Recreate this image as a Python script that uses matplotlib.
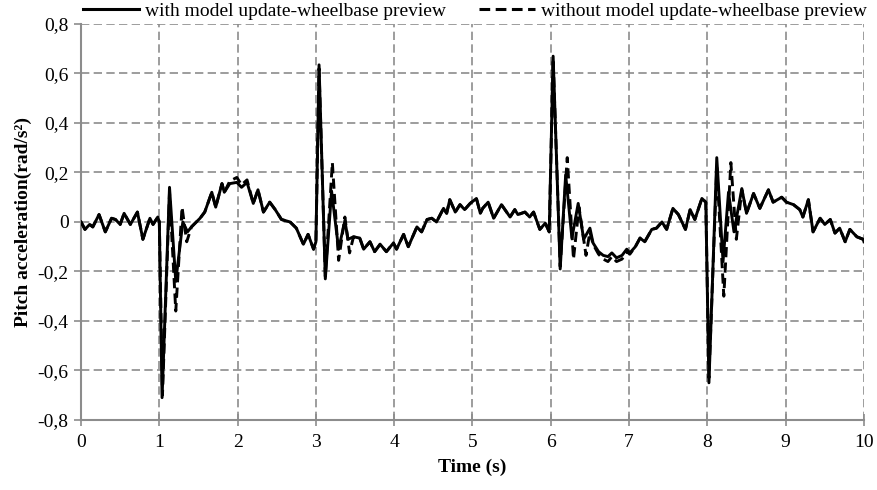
import matplotlib
matplotlib.use('Agg')
import matplotlib.pyplot as plt
from matplotlib.lines import Line2D

###########################
# Data
###########################

# with model update-wheelbase preview
t_with = [0.00, 0.05, 0.11, 0.15, 0.23, 0.31, 0.39, 0.44, 0.50, 0.55, 0.63, 0.72, 0.79, 0.88, 0.92, 0.98,
          1.00, 1.035, 1.13, 1.21, 1.30, 1.36, 1.41, 1.52, 1.58, 1.67, 1.72, 1.80, 1.83, 1.90, 1.99,
          2.05, 2.12, 2.20, 2.26, 2.33, 2.41, 2.48, 2.56, 2.67, 2.75, 2.84, 2.90, 2.97,
          3.00, 3.04, 3.12, 3.20, 3.29, 3.37, 3.41, 3.48, 3.56, 3.61, 3.69, 3.75, 3.82, 3.90, 3.99,
          4.03, 4.12, 4.18, 4.29, 4.35, 4.42, 4.48, 4.54, 4.63, 4.67, 4.71, 4.78, 4.84, 4.90, 4.97,
          5.05, 5.10, 5.13, 5.20, 5.27, 5.37, 5.48, 5.54, 5.58, 5.67, 5.73, 5.78, 5.86, 5.93, 5.98,
          6.03, 6.12, 6.19, 6.27, 6.35, 6.42, 6.50, 6.54, 6.61, 6.67, 6.73, 6.78, 6.84, 6.91, 6.97,
          7.01, 7.08, 7.14, 7.20, 7.29, 7.35, 7.42, 7.48, 7.56, 7.63, 7.72, 7.78, 7.84, 7.93, 7.98,
          8.02, 8.12, 8.20, 8.27, 8.34, 8.44, 8.50, 8.59, 8.67, 8.78, 8.84, 8.95,
          9.01, 9.10, 9.18, 9.22, 9.29, 9.35, 9.44, 9.50, 9.57, 9.63, 9.69, 9.76, 9.82, 9.91, 9.99, 10.0]
a_with = [0.0, -0.03, -0.01, -0.02, 0.03, -0.04, 0.015, 0.01, -0.01, 0.035, -0.01, 0.04, -0.07, 0.015, -0.01, 0.02,
          0.0, -0.71, 0.14, -0.24, 0.0, -0.04, -0.02, 0.015, 0.04, 0.12, 0.06, 0.155, 0.12, 0.155, 0.16,
          0.14, 0.16, 0.075, 0.13, 0.04, 0.08, 0.05, 0.01, 0.0, -0.025, -0.09, -0.05, -0.11,
          -0.08, 0.635, -0.23, 0.125, -0.11, 0.005, -0.07, -0.06, -0.065, -0.11, -0.08, -0.12, -0.09, -0.12, -0.085,
          -0.11, -0.05, -0.10, -0.02, -0.04, 0.01, 0.015, 0.0, 0.055, 0.035, 0.09, 0.04, 0.07, 0.05, 0.075,
          0.095, 0.035, 0.055, 0.08, 0.015, 0.07, 0.02, 0.05, 0.03, 0.04, 0.02, 0.04, -0.03, -0.005, -0.04,
          0.67, -0.19, 0.19, -0.065, 0.075, -0.07, -0.025, -0.085, -0.12, -0.135, -0.14, -0.125, -0.145, -0.135, -0.11,
          -0.125, -0.10, -0.065, -0.08, -0.03, -0.025, 0.0, -0.03, 0.055, 0.03, -0.03, 0.05, 0.01, 0.095, 0.08,
          -0.65, 0.26, -0.16, 0.12, -0.04, 0.135, 0.035, 0.115, 0.055, 0.13, 0.08, 0.10,
          0.08, 0.07, 0.05, 0.02, 0.09, -0.04, 0.015, -0.01, 0.01, -0.045, -0.025, -0.08, -0.03, -0.06, -0.07, -0.08]

# without model update-wheelbase preview
t_without = [0.00, 0.05, 0.11, 0.15, 0.23, 0.31, 0.39, 0.44, 0.50, 0.55, 0.63, 0.72, 0.79, 0.88, 0.92, 0.98,
             1.00, 1.04, 1.13, 1.21, 1.29, 1.35, 1.41, 1.52, 1.58, 1.67, 1.72, 1.80, 1.83, 1.90, 1.99,
             2.05, 2.12, 2.20, 2.26, 2.33, 2.41, 2.48, 2.56, 2.67, 2.75, 2.84, 2.90, 2.97,
             3.00, 3.04, 3.12, 3.21, 3.29, 3.37, 3.43, 3.48, 3.56, 3.61, 3.69, 3.75, 3.82, 3.90, 3.99,
             4.03, 4.12, 4.18, 4.29, 4.35, 4.42, 4.48, 4.54, 4.63, 4.67, 4.71, 4.78, 4.84, 4.90, 4.97,
             5.05, 5.10, 5.13, 5.20, 5.27, 5.37, 5.48, 5.54, 5.58, 5.67, 5.73, 5.78, 5.86, 5.93, 5.98,
             6.03, 6.12, 6.21, 6.29, 6.36, 6.45, 6.50, 6.54, 6.61, 6.67, 6.73, 6.78, 6.84, 6.91, 6.97,
             7.01, 7.08, 7.14, 7.20, 7.29, 7.35, 7.42, 7.48, 7.56, 7.63, 7.72, 7.78, 7.84, 7.93, 7.98,
             8.02, 8.12, 8.21, 8.30, 8.37, 8.44, 8.50, 8.59, 8.67, 8.78, 8.84, 8.95,
             9.01, 9.10, 9.18, 9.22, 9.29, 9.35, 9.44, 9.50, 9.57, 9.63, 9.69, 9.76, 9.82, 9.91, 9.99, 10.0]
a_without = [0.0, -0.03, -0.01, -0.02, 0.03, -0.04, 0.015, 0.01, -0.01, 0.035, -0.01, 0.04, -0.07, 0.015, -0.01, 0.02,
             0.0, -0.70, 0.12, -0.36, 0.06, -0.08, -0.02, 0.015, 0.04, 0.12, 0.06, 0.155, 0.12, 0.165, 0.18,
             0.15, 0.17, 0.075, 0.13, 0.04, 0.08, 0.05, 0.01, 0.0, -0.025, -0.09, -0.05, -0.11,
             -0.08, 0.62, -0.22, 0.24, -0.155, 0.02, -0.125, -0.06, -0.065, -0.11, -0.08, -0.12, -0.09, -0.12, -0.085,
             -0.11, -0.05, -0.10, -0.02, -0.04, 0.01, 0.015, 0.0, 0.055, 0.035, 0.09, 0.04, 0.07, 0.05, 0.075,
             0.095, 0.035, 0.055, 0.08, 0.015, 0.07, 0.02, 0.05, 0.03, 0.04, 0.02, 0.04, -0.03, -0.005, -0.04,
             0.66, -0.18, 0.26, -0.15, 0.06, -0.135, -0.04, -0.09, -0.13, -0.15, -0.16, -0.14, -0.16, -0.15, -0.12,
             -0.13, -0.10, -0.065, -0.08, -0.03, -0.025, 0.0, -0.03, 0.055, 0.03, -0.03, 0.05, 0.01, 0.095, 0.08,
             -0.63, 0.22, -0.30, 0.24, -0.07, 0.13, 0.035, 0.115, 0.055, 0.13, 0.08, 0.10,
             0.08, 0.07, 0.05, 0.02, 0.09, -0.04, 0.015, -0.01, 0.01, -0.045, -0.025, -0.08, -0.03, -0.06, -0.07, -0.08]

x_ticks = list(range(0, 11))
y_ticks = [-0.8, -0.6, -0.4, -0.2, 0.0, 0.2, 0.4, 0.6, 0.8]
y_tick_labels = ['-0,8', '-0,6', '-0,4', '-0,2', '0', '0,2', '0,4', '0,6', '0,8']

LABEL_WITH = 'with model update-wheelbase preview'
LABEL_WITHOUT = 'without model update-wheelbase preview'

###########################
# Plot
###########################

plt.rcParams['font.family'] = ['Liberation Serif', 'DejaVu Serif']
plt.rcParams['font.size'] = 14

fig = plt.figure(figsize=(8.78, 4.9), dpi=100)
ax = fig.add_axes([0.0923, 0.143, 0.8917, 0.808])

grid_color = '#8c8c8c'
ax.plot(t_without, a_without, color='black', lw=2.1, linestyle=(0, (3.5, 1.8)), zorder=3)
ax.plot(t_with, a_with, color='black', lw=2.1, linestyle='-', zorder=4)

ax.set_xlim(0, 10)
ax.set_ylim(-0.8, 0.8)
ax.set_xticks(x_ticks)
ax.set_yticks(y_ticks)
ax.set_yticklabels(y_tick_labels)

ax.grid(True, color=grid_color, linestyle=(0, (5, 2.6)), lw=1.2)
ax.set_axisbelow(True)
for side in ['top', 'right']:
    ax.spines[side].set_visible(False)
for side in ['left', 'bottom']:
    ax.spines[side].set_color(grid_color)
    ax.spines[side].set_linewidth(1.5)
ax.tick_params(axis='both', colors=grid_color, labelcolor='black', direction='inout', length=8, width=1.2)
ax.tick_params(axis='y', direction='out', length=5, pad=4)
ax.tick_params(axis='x', pad=6)

ax.set_xlabel('Time (s)', fontweight='bold', labelpad=6)
ax.set_ylabel('Pitch acceleration(rad/s²)', fontweight='bold', labelpad=4)

handles = [Line2D([], [], color='black', lw=2.2, linestyle='-'),
           Line2D([], [], color='black', lw=2.2, linestyle=(0, (3.5, 1.8)))]
fig.legend(handles, [LABEL_WITH, LABEL_WITHOUT], loc='center', bbox_to_anchor=(0.541, 0.978),
           ncol=2, frameon=False, handlelength=2.9, handletextpad=0.3, columnspacing=1.7,
           borderpad=0, fontsize=14)

plt.savefig('out.png', dpi=100)
